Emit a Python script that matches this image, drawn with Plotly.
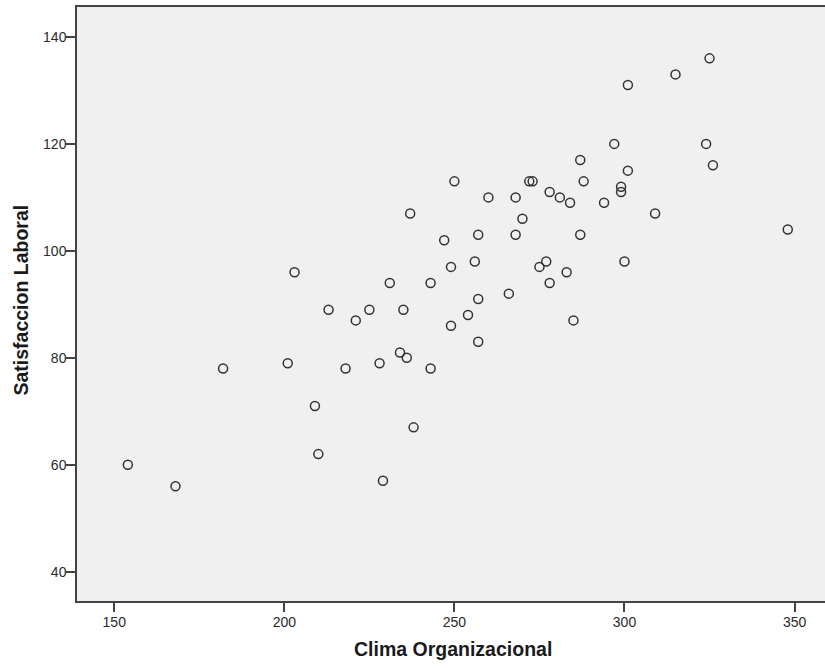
import plotly.graph_objects as go

clima = [154, 168, 182, 201, 203, 209, 210, 213, 218, 221, 225, 228, 229, 231, 234, 235,
         236, 237, 238, 243, 243, 247, 249, 249, 250, 254, 256, 257, 257, 257, 260, 266,
         268, 268, 270, 272, 273, 275, 277, 278, 278, 281, 283, 284, 285, 287, 287, 288,
         294, 297, 299, 299, 300, 301, 301, 309, 315, 324, 325, 326, 348]
satisfaccion = [60, 56, 78, 79, 96, 71, 62, 89, 78, 87, 89, 79, 57, 94, 81, 89,
                80, 107, 67, 94, 78, 102, 97, 86, 113, 88, 98, 103, 91, 83, 110, 92,
                110, 103, 106, 113, 113, 97, 98, 111, 94, 110, 96, 109, 87, 117, 103, 113,
                109, 120, 112, 111, 98, 131, 115, 107, 133, 120, 136, 116, 104]

x_ticks = [150, 200, 250, 300, 350]
y_ticks = [40, 60, 80, 100, 120, 140]

fig = go.Figure()
fig.add_trace(go.Scatter(
    x=clima, y=satisfaccion, mode="markers",
    marker=dict(symbol="circle-open", size=9, color="#333333", line=dict(width=1.5, color="#333333")),
    hoverinfo="x+y", showlegend=False,
))

axis_common = dict(
    showgrid=False, zeroline=False, showline=True, linecolor="#444444", linewidth=1.5,
    ticks="outside", ticklen=9, tickwidth=1.5, tickcolor="#444444",
    tickfont=dict(family="Liberation Sans, Arial, sans-serif", size=14, color="#2a2a2a"),
)

fig.update_layout(
    width=825, height=669,
    margin=dict(l=77, r=0, t=7, b=68),
    paper_bgcolor="white", plot_bgcolor="#F0F0F0",
    xaxis=dict(range=[139.05, 358.95], tickvals=x_ticks, mirror=True, ticklabelstandoff=-2, **axis_common),
    yaxis=dict(range=[34.53, 145.6], tickvals=y_ticks, mirror=False, ticklabelstandoff=-3, **axis_common),
    annotations=[
        dict(text="<b>Clima Organizacional</b>", xref="paper", yref="paper", x=0.503, y=0,
             xanchor="center", yanchor="middle", yshift=-48, showarrow=False,
             font=dict(family="Liberation Sans, Arial, sans-serif", size=19.5, color="#1a1a1a")),
        dict(text="<b>Satisfaccion Laboral</b>", xref="paper", yref="paper", x=0, y=0.5067,
             xanchor="center", yanchor="middle", xshift=-55.5, textangle=-90, showarrow=False,
             font=dict(family="Liberation Sans, Arial, sans-serif", size=19.5, color="#1a1a1a")),
    ],
)

fig.write_html("out.html")
